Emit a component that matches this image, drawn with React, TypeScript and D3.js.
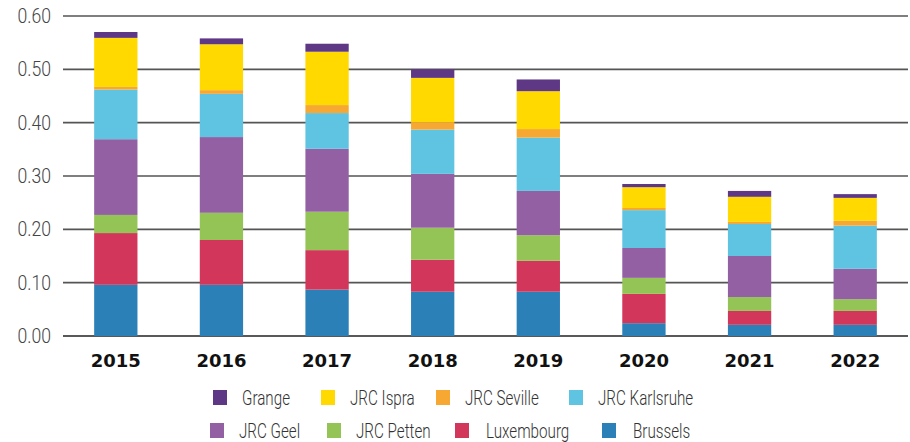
import React, { useEffect, useRef } from 'react';
import * as d3 from 'd3';

const years = ['2015', '2016', '2017', '2018', '2019', '2020', '2021', '2022'];

// stacking order: bottom -> top
const seriesNames = ['Brussels', 'Luxembourg', 'JRC Petten', 'JRC Geel', 'JRC Karlsruhe', 'JRC Seville', 'JRC Ispra', 'Grange'];
const seriesColors = ['#2c80b8', '#d2365a', '#95c456', '#9361a3', '#5fc4e1', '#f7a833', '#ffd900', '#5e3785'];

const brussels = [0.096, 0.096, 0.087, 0.083, 0.083, 0.024, 0.021, 0.021];
const luxembourg = [0.097, 0.084, 0.074, 0.060, 0.058, 0.055, 0.026, 0.026];
const jrcPetten = [0.034, 0.051, 0.072, 0.060, 0.048, 0.030, 0.026, 0.022];
const jrcGeel = [0.142, 0.142, 0.118, 0.101, 0.083, 0.056, 0.077, 0.057];
const jrcKarlsruhe = [0.093, 0.081, 0.067, 0.083, 0.100, 0.071, 0.060, 0.081];
const jrcSeville = [0.005, 0.007, 0.015, 0.014, 0.016, 0.004, 0.004, 0.009];
const jrcIspra = [0.092, 0.086, 0.100, 0.083, 0.071, 0.039, 0.047, 0.043];
const grange = [0.011, 0.011, 0.015, 0.016, 0.022, 0.006, 0.011, 0.007];

const yTicks = [0, 0.1, 0.2, 0.3, 0.4, 0.5, 0.6];

// legend rows, in reading order
const legendRows = [
    ['Grange', 'JRC Ispra', 'JRC Seville', 'JRC Karlsruhe'],
    ['JRC Geel', 'JRC Petten', 'Luxembourg', 'Brussels'],
];

const FONT = 'Roboto, "Noto Sans", sans-serif';

const App: React.FC = () => {
    const svgRef = useRef<SVGSVGElement>(null);
    const width = 910;
    const height = 442;

    useEffect(() => {
        if (!svgRef.current) return;
        const svg = d3.select(svgRef.current);
        svg.selectAll('*').remove();

        const margin = { top: 16, right: 2, bottom: 106, left: 63 };
        const plotW = width - margin.left - margin.right;
        const plotH = height - margin.top - margin.bottom;

        const values = [brussels, luxembourg, jrcPetten, jrcGeel, jrcKarlsruhe, jrcSeville, jrcIspra, grange];
        const rows = years.map((y, i) => {
            const r: any = { year: y };
            seriesNames.forEach((s, k) => { r[s] = values[k][i]; });
            return r;
        });

        const x = d3.scaleBand()
            .domain(years)
            .range([0, plotW])
            .paddingInner(0.59)
            .paddingOuter(0.295);

        const y = d3.scaleLinear().domain([0, 0.6]).range([plotH, 0]);

        const color = d3.scaleOrdinal<string, string>().domain(seriesNames).range(seriesColors);

        const chart = svg.append('g').attr('transform', `translate(${margin.left},${margin.top})`);

        // grid lines
        chart.append('g')
            .selectAll('line')
            .data(yTicks)
            .enter()
            .append('line')
            .attr('x1', 0)
            .attr('x2', plotW)
            .attr('y1', d => y(d))
            .attr('y2', d => y(d))
            .attr('stroke', d => (d === 0 ? '#222' : '#555'))
            .attr('stroke-width', 1.6);

        // y labels
        chart.append('g')
            .selectAll('text')
            .data(yTicks)
            .enter()
            .append('text')
            .attr('transform', d => `translate(-12,${y(d)}) scale(0.88,1)`)
            .attr('dy', '0.35em')
            .attr('text-anchor', 'end')
            .style('font-family', FONT)
            .style('font-weight', 300)
            .style('font-size', '20px')
            .style('fill', '#444')
            .text(d => d.toFixed(2));

        const stacked = d3.stack<any>().keys(seriesNames)(rows);

        chart.append('g')
            .selectAll('g')
            .data(stacked)
            .enter()
            .append('g')
            .attr('fill', d => color(d.key))
            .selectAll('rect')
            .data(d => d)
            .enter()
            .append('rect')
            .attr('x', d => x(d.data.year) || 0)
            .attr('y', d => y(d[1]))
            .attr('width', x.bandwidth())
            .attr('height', d => y(d[0]) - y(d[1]));

        // x labels
        chart.append('g')
            .selectAll('text')
            .data(years)
            .enter()
            .append('text')
            .attr('x', d => (x(d) || 0) + x.bandwidth() / 2)
            .attr('y', plotH + 31)
            .attr('text-anchor', 'middle')
            .style('font-family', '"DejaVu Sans", sans-serif')
            .style('font-weight', 'bold')
            .style('font-size', '18px')
            .style('fill', '#111')
            .text(d => d);

        // legend
        const legendX = [
            [213, 321, 436, 569],
            [210, 327, 455, 602],
        ];
        const legendY = [390, 423];
        const legend = svg.append('g');
        legendRows.forEach((row, ri) => {
            row.forEach((name, ci) => {
                const g = legend.append('g')
                    .attr('transform', `translate(${legendX[ri][ci]},${legendY[ri]})`);
                g.append('rect')
                    .attr('width', 14)
                    .attr('height', 15)
                    .attr('fill', color(name));
                g.append('text')
                    .attr('transform', `translate(${ri === 1 && ci >= 2 ? 31 : 29},8) scale(0.76,1)`)
                    .attr('dy', '0.35em')
                    .style('font-family', FONT)
                    .style('font-weight', 300)
                    .style('font-size', '20px')
                    .style('fill', '#333')
                    .text(name);
            });
        });
    }, []);

    return (
        <svg ref={svgRef} width={width} height={height}
            style={{ position: 'absolute', left: 0, top: 0, background: '#fff' }} />
    );
};

export default App;
